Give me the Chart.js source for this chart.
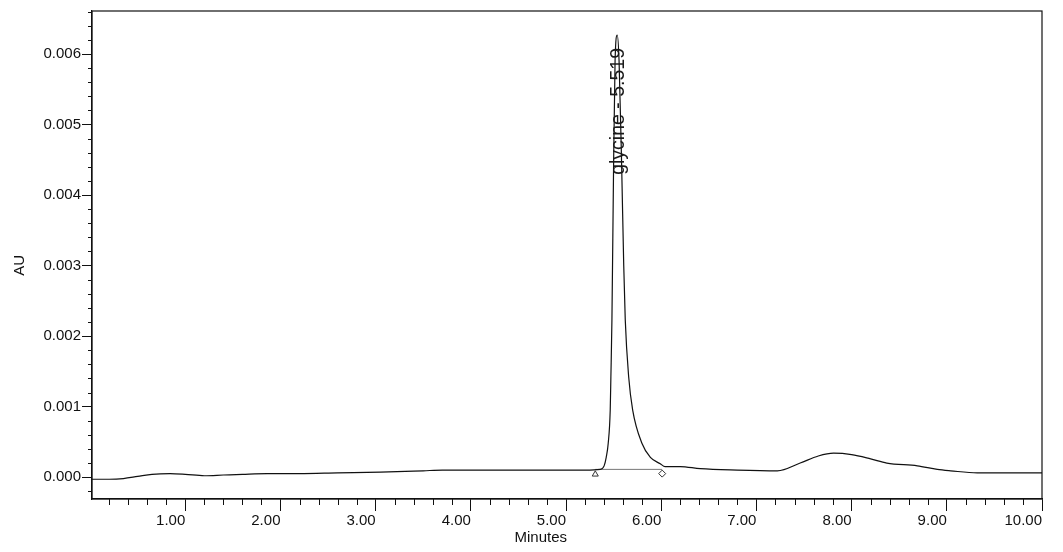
<!DOCTYPE html>
<html>
<head>
<meta charset="utf-8">
<script src="https://cdn.jsdelivr.net/npm/chart.js@4.4.1/dist/chart.umd.min.js"></script>
<style>
  html, body { margin: 0; padding: 0; background: #fff; }
  #wrap { width: 1063px; height: 552px; }
</style>
</head>
<body>
<div id="wrap"><canvas id="chartCanvas"></canvas></div>
<script>
// chromatogram trace (minutes, AU)
const minutes = [0.02, 0.2, 0.35, 0.5, 0.65, 0.84, 1.0, 1.2, 1.4, 1.6, 1.86, 2.2, 2.6, 3.05, 3.5, 3.7, 4.0, 4.5, 5.0, 5.2,
    5.36, 5.40, 5.422, 5.443, 5.464, 5.471, 5.482, 5.499, 5.515, 5.538, 5.557, 5.585, 5.606, 5.622, 5.658, 5.700, 5.797, 5.886, 5.99, 6.04,
    6.2, 6.41, 6.8, 7.22, 7.46, 7.65, 7.81, 8.0, 8.2, 8.37, 8.69, 8.9, 9.04, 9.32, 9.6, 10.0];
const absorbance = [-0.00003, -0.00003, -0.00002, 0.00001, 0.00004, 0.00005, 0.00004, 0.00002, 0.00003, 0.00004, 0.00005, 0.00005, 0.00006, 0.00007, 0.00009, 0.0001, 0.0001, 0.0001, 0.0001, 0.0001,
    0.00011, 0.00016, 0.00028, 0.00048, 0.00095, 0.00142, 0.00223, 0.00436, 0.0059, 0.00627, 0.0059, 0.00436, 0.003, 0.00223, 0.00142, 0.00095, 0.00048, 0.00028, 0.00019, 0.00015,
    0.00015, 0.00012, 0.0001, 0.00009, 0.0002, 0.0003, 0.00034, 0.00032, 0.00026, 0.0002, 0.00016, 0.00011, 0.00009, 0.00006, 0.00006, 0.00006];

// integration baseline + start/end markers
const baselineMinutes = [5.307, 6.01];
const baselineAU = [0.00011, 0.00011];
const markerAU = [0.00004, 0.00005];

const peakName = "glycine - 5.519";
const peakMinute = 5.538;
const peakAU = 0.00627;

const xTicks = [1, 2, 3, 4, 5, 6, 7, 8, 9, 10];
const xTickLabels = ["1.00", "2.00", "3.00", "4.00", "5.00", "6.00", "7.00", "8.00", "9.00", "10.00"];
const yTicks = [0, 0.001, 0.002, 0.003, 0.004, 0.005, 0.006];
const yTickLabels = ["0.000", "0.001", "0.002", "0.003", "0.004", "0.005", "0.006"];

const ink = "#111";
const font = { family: "'Liberation Sans', Arial, sans-serif", size: 15 };

// small ticks between the labelled ones
const minorTicks = {
    id: "minorTicks",
    afterDraw(c) {
        const ctx = c.ctx, xs = c.scales.x, ys = c.scales.y, a = c.chartArea;
        ctx.save();
        ctx.strokeStyle = ink;
        ctx.lineWidth = 1;
        ctx.beginPath();
        for (let i = 1; i <= 50; i++) {
            if (i % 5 === 0) continue;
            const px = Math.round(xs.getPixelForValue(i * 0.2)) + 0.5;
            if (px < a.left || px > a.right) continue;
            ctx.moveTo(px, a.bottom);
            ctx.lineTo(px, a.bottom + 6);
        }
        for (let i = -1; i <= 33; i++) {
            if (i % 5 === 0) continue;
            const py = Math.round(ys.getPixelForValue(i * 0.0002)) + 0.5;
            if (py < a.top || py > a.bottom) continue;
            ctx.moveTo(a.left - 4, py);
            ctx.lineTo(a.left, py);
        }
        ctx.stroke();
        // frame
        ctx.lineWidth = 1.2;
        ctx.strokeRect(a.left, a.top, a.right - a.left, a.bottom - a.top);
        // axis titles, ending at the middle of each axis
        ctx.fillStyle = ink;
        ctx.font = "15px " + font.family;
        ctx.textAlign = "right";
        ctx.textBaseline = "middle";
        ctx.fillText("Minutes", (a.left + a.right) / 2, 538);
        ctx.translate(20, (a.top + a.bottom) / 2);
        ctx.rotate(-Math.PI / 2);
        ctx.fillText("AU", 0, 0);
        ctx.restore();
    }
};

const peakLabel = {
    id: "peakLabel",
    afterDatasetsDraw(c) {
        const ctx = c.ctx;
        const px = c.scales.x.getPixelForValue(peakMinute);
        const py = c.scales.y.getPixelForValue(peakAU);
        ctx.save();
        ctx.fillStyle = "#1a1a1a";
        ctx.font = "19.5px " + font.family;
        ctx.translate(px + 7, py + 13);
        ctx.rotate(-Math.PI / 2);
        ctx.textAlign = "right";
        ctx.textBaseline = "alphabetic";
        ctx.fillText(peakName, 0, 0);
        ctx.restore();
    }
};

new Chart(chartCanvas, {
    type: "line",
    data: {
        datasets: [
            {
                data: minutes.map((m, i) => ({ x: m, y: absorbance[i] })),
                borderColor: ink,
                borderWidth: 1.2,
                pointRadius: 0,
                tension: 0.4,
                cubicInterpolationMode: "monotone"
            },
            {
                data: baselineMinutes.map((m, i) => ({ x: m, y: baselineAU[i] })),
                borderColor: "#777",
                borderWidth: 1,
                pointRadius: 0
            },
            {
                data: baselineMinutes.map((m, i) => ({ x: m, y: markerAU[i] })),
                showLine: false,
                pointStyle: ["triangle", "rectRot"],
                pointRadius: 3.5,
                pointBorderColor: "#333",
                pointBackgroundColor: "#fff",
                pointBorderWidth: 1
            }
        ]
    },
    options: {
        responsive: true,
        maintainAspectRatio: false,
        animation: false,
        devicePixelRatio: 1,
        layout: { padding: { top: 11, right: 21, left: 0, bottom: 0 } },
        plugins: { legend: { display: false }, tooltip: { enabled: false } },
        scales: {
            x: {
                type: "linear",
                min: 0.02,
                max: 10.0,
                afterFit: s => { s.height = 53; },
                afterBuildTicks: s => { s.ticks = xTicks.map(v => ({ value: v })); },
                grid: { drawOnChartArea: false, drawTicks: true, tickLength: 12, tickColor: ink, tickWidth: 1 },
                border: { display: true, color: ink, width: 1.2 },
                ticks: {
                    color: ink, font: font, padding: 1, align: "end", maxRotation: 0, autoSkip: false,
                    callback: (v) => xTickLabels[xTicks.indexOf(v)]
                }
            },
            y: {
                type: "linear",
                min: -0.00031,
                max: 0.00661,
                afterFit: s => { s.width = 92; },
                afterBuildTicks: s => { s.ticks = yTicks.map(v => ({ value: v })); },
                grid: { drawOnChartArea: false, drawTicks: true, tickLength: 10, tickColor: ink, tickWidth: 1 },
                border: { display: true, color: ink, width: 1.2 },
                ticks: {
                    color: ink, font: font, padding: 1,
                    callback: (v) => yTickLabels[yTicks.indexOf(v)]
                }
            }
        }
    },
    plugins: [minorTicks, peakLabel]
});
</script>
</body>
</html>
